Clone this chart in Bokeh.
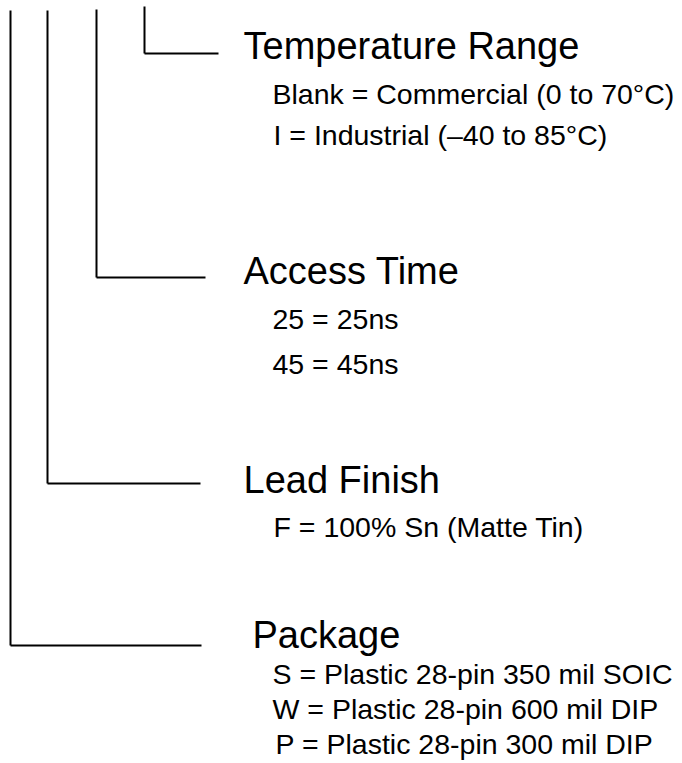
from bokeh.plotting import figure
from bokeh.models import ColumnDataSource, Range1d
from bokeh.core.properties import value
from bokeh.embed import file_html
from bokeh.resources import INLINE

# ---- content ----
titles = ["Temperature Range", "Access Time", "Lead Finish", "Package"]
options = [
    ["Blank = Commercial (0 to 70°C)", "I = Industrial (\u201340 to 85°C)"],
    ["25 = 25ns", "45 = 45ns"],
    ["F = 100% Sn (Matte Tin)"],
    ["S = Plastic 28-pin 350 mil SOIC", "W = Plastic 28-pin 600 mil DIP", "P = Plastic 28-pin 300 mil DIP"],
]

# ---- leader geometry (page pixel coordinates) ----
branch_x = [144, 96, 47, 10]        # vertical leader x
branch_top = [6, 9, 10, 10]         # vertical leader top
branch_y = [53, 277, 483, 645]      # horizontal leader y
branch_end = [218, 205, 200, 201]   # horizontal leader end x

title_x = [243, 243, 243, 252]
title_y = [58, 283, 492, 647]
opt_x = [[272, 273], [272, 272], [273], [272, 272, 275]]
opt_y = [[103, 144], [328, 373], [536], [683, 718, 753]]

TITLE_DY = -13   # rendering offset for baseline
OPT_DY = -10

W, H = 682, 763
p = figure(width=W, height=H, output_backend="svg", toolbar_location=None,
           x_range=Range1d(0, W), y_range=Range1d(H, 0),
           min_border=0, min_border_left=0, min_border_right=0,
           min_border_top=0, min_border_bottom=0)
p.axis.visible = False
p.grid.visible = False
p.outline_line_color = None
p.background_fill_color = "white"
p.border_fill_color = "white"

vs = ColumnDataSource(dict(x0=branch_x, y0=branch_top, x1=branch_x, y1=branch_y))
hs = ColumnDataSource(dict(x0=branch_x, y0=branch_y, x1=branch_end, y1=branch_y))
p.segment(x0="x0", y0="y0", x1="x1", y1="y1", source=vs, line_color="black", line_width=2)
p.segment(x0="x0", y0="y0", x1="x1", y1="y1", source=hs, line_color="black", line_width=2)

ts = ColumnDataSource(dict(x=title_x, y=[v + TITLE_DY for v in title_y], t=titles))
p.text(x="x", y="y", text="t", source=ts, text_font=value("Liberation Sans"),
       text_font_size="38px", text_color="black", text_baseline="alphabetic", text_align="left")

ox, oy, ot = [], [], []
for xs, ys, opts in zip(opt_x, opt_y, options):
    ox += xs
    oy += [v + OPT_DY for v in ys]
    ot += opts
os_ = ColumnDataSource(dict(x=ox, y=oy, t=ot))
p.text(x="x", y="y", text="t", source=os_, text_font=value("Liberation Sans"),
       text_font_size="28.5px", text_color="black", text_baseline="alphabetic", text_align="left")

open("out.html", "w").write(file_html(p, INLINE))
